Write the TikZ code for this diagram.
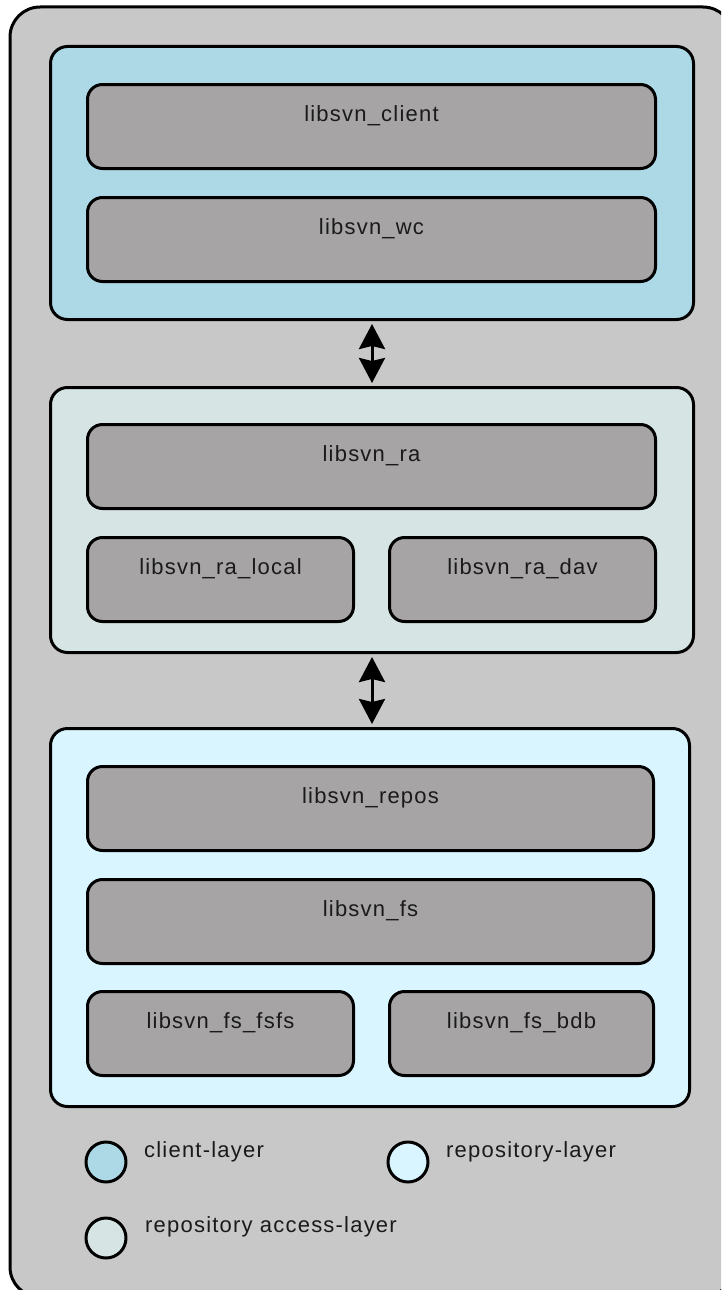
\documentclass[tikz,border=0pt]{standalone}
\usepackage{fontspec}
\setmainfont{Liberation Sans}[LetterSpace=5.5]
\usetikzlibrary{arrows.meta}
\definecolor{framegray}{HTML}{C8C8C8}
\definecolor{clientblue}{HTML}{ADD8E6}
\definecolor{accessgray}{HTML}{D6E4E4}
\definecolor{reposcyan}{HTML}{D9F5FF}
\definecolor{libgray}{HTML}{A6A4A5}
\definecolor{inkgray}{HTML}{1A1A1A}
\begin{document}
\begin{tikzpicture}[x=1pt,y=-1pt,line join=round,
 layer/.style={draw,line width=3pt,rounded corners=17pt,anchor=north west,inner sep=0pt},
 lib/.style={draw,line width=3pt,rounded corners=15pt,fill=libgray,anchor=north west,
  inner sep=0pt,text height=37pt,text depth=47pt,text=inkgray,font=\fontsize{22pt}{26pt}\selectfont},
 key/.style={circle,draw,line width=3pt,minimum size=40pt,inner sep=0pt},
 keytext/.style={anchor=base west,inner sep=0pt,text=inkgray,font=\fontsize{22pt}{26pt}\selectfont},
 biarrow/.style={{Stealth[length=25pt,width=26pt,inset=3pt]}-{Stealth[length=25pt,width=26pt,inset=3pt]},
  line width=3pt,shorten <=3pt,shorten >=3pt}]
 \useasboundingbox (0,0) rectangle (721,1290);
 \clip (0,0) rectangle (721,1290);
 % frame round everything
 \draw[fill=framegray,line width=3pt,rounded corners=30pt] (10,7) rectangle (733,1297);
 % layers
 \node[layer,fill=clientblue,minimum width=643pt,minimum height=273pt] (client) at (49,45) {};
 \node[layer,fill=accessgray,minimum width=643pt,minimum height=265pt] (access) at (49,386) {};
 \node[layer,fill=reposcyan,minimum width=639pt,minimum height=378pt] (repos) at (49,727) {};
 % libraries
 \node[lib,minimum width=568pt] (libclient) at (86,83) {libsvn\_client};
 \node[lib,minimum width=568pt] (libwc) at (86,196) {libsvn\_wc};
 \node[lib,minimum width=568pt] (libra) at (86,423) {libsvn\_ra};
 \node[lib,minimum width=266pt] (libralocal) at (86,536) {libsvn\_ra\_local};
 \node[lib,minimum width=266pt] (libradav) at (388,536) {libsvn\_ra\_dav};
 \node[lib,minimum width=566pt] (librepos) at (86,765) {libsvn\_repos};
 \node[lib,minimum width=566pt] (libfs) at (86,878) {libsvn\_fs};
 \node[lib,minimum width=266pt] (libfsfs) at (86,990) {libsvn\_fs\_fsfs};
 \node[lib,minimum width=264pt] (libfsbdb) at (388,990) {libsvn\_fs\_bdb};
 % between the layers
 \draw[biarrow] (client.south) -- (access.north);
 \draw[biarrow] (access.south) -- (access.south |- repos.north);
 % legend
 \node[key,fill=clientblue] (keyclient) at (106,1162) {};
 \node[key,fill=reposcyan] (keyrepos) at (408,1162) {};
 \node[key,fill=accessgray] (keyaccess) at (106,1238) {};
 \node[keytext] (txtclient) at (144,1157) {client-layer};
 \node[keytext] (txtrepos) at (446,1157) {repository-layer};
 \node[keytext] (txtaccess) at (145,1232) {repository access-layer};
\end{tikzpicture}
\end{document}
